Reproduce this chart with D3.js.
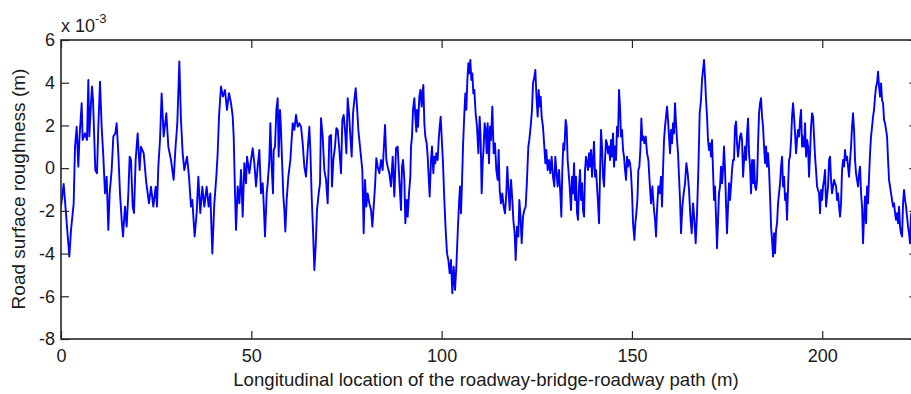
<!DOCTYPE html>
<html>
<head>
<meta charset="utf-8">
<script src="https://cdn.jsdelivr.net/npm/d3@7/dist/d3.min.js"></script>
<style>
html,body{margin:0;padding:0;background:#fff;}
svg{display:block;}
text{font-family:"Liberation Sans",Arial,sans-serif;fill:#1a1a1a;}
</style>
</head>
<body>
<svg id="chart" width="911" height="394"></svg>
<script>
// ---- data (distance in m, roughness in 1e-3 m) ----
const xTicks = [0, 50, 100, 150, 200];
const yTicks = [-8, -6, -4, -2, 0, 2, 4, 6];
const xDomain = [0, 225];
const yDomain = [-8, 6];
const xLabel = "Longitudinal location of the roadway-bridge-roadway path (m)";
const yLabel = "Road surface roughness (m)";
const profile = [
[0,-1.8],[0.70,-0.74],[2.19,-4.14],[2.63,-2.9],[3.33,-1.65],[3.68,1.0],[4.12,1.94],[4.55,0.07],[4.82,1.32],[5.43,3.04],[5.69,1.32],[6.30,1.63],[6.83,1.32],[7.18,4.13],[7.44,1.48],[7.88,3.04],[8.14,3.82],[8.41,3.2],[9.02,-0.1],[9.46,-0.24],[9.81,1.94],[10.25,4.05],[10.68,1.94],[11.12,0.54],[11.56,-1.18],[12.0,-0.4],[12.43,-2.89],[12.78,-1.18],[13.31,-0.09],[13.75,1.48],[14.27,1.63],[14.62,2.10],[15.06,0.70],[15.50,-1.18],[15.94,-2.42],[16.29,-3.2],[16.81,-1.8],[17.25,-2.73],[17.69,-1.18],[18.04,0.54],[18.39,0.38],[18.83,-1.8],[19.18,-2.1],[19.61,0.38],[20.14,1.63],[20.67,-0.09],[21.02,1.0],[21.72,0.7],[22.42,-0.71],[23.12,-1.65],[23.64,-0.87],[24.26,-1.80],[24.87,-0.87],[25.22,-1.80],[25.57,0.07],[26.01,1.32],[26.44,3.5],[26.97,1.48],[27.67,2.57],[28.20,1.0],[28.90,0.38],[29.60,-0.55],[30.04,0.85],[30.56,2.1],[31.09,4.99],[31.52,2.26],[31.96,0.70],[32.40,-0.09],[33.10,0.54],[33.63,-0.40],[34.15,-1.80],[34.50,-1.49],[35.11,-3.2],[35.64,-2.1],[36.08,-0.40],[36.60,-2.1],[37.13,-0.87],[37.65,-1.80],[38.27,-0.87],[38.79,-1.80],[39.23,-1.18],[39.75,-4.0],[40.28,-1.65],[40.81,-0.40],[41.16,0.70],[41.51,2.41],[42.03,3.82],[42.56,3.35],[43.08,3.66],[43.61,2.73],[44.13,3.51],
[44.67,3.04],[45.11,2.41],[45.37,1.48],[45.72,-1.18],[45.98,-2.89],[46.42,-0.86],[46.86,-1.65],[47.30,-0.09],[47.73,-2.27],[48.17,0.23],[48.61,-0.71],[48.87,0.54],[49.49,-0.24],[49.92,0.38],[50.36,0.93],[50.80,0.23],[51.24,-0.86],[51.67,0.07],[52.11,0.85],[52.55,-1.18],[52.99,-0.71],[53.25,-1.65],[53.60,-3.2],[54.04,-1.18],[54.30,-0.71],[54.74,0.38],[55.0,2.10],[55.35,0.07],[55.70,-1.18],[55.88,0.85],[56.23,1.01],[56.58,2.73],[56.93,3.27],[57.19,0.54],[57.54,2.73],[57.80,1.79],[58.07,0.38],[58.42,-1.33],[58.68,-1.96],[58.94,-2.97],[59.29,-1.49],[59.73,-0.40],[60.26,0.38],[60.87,2.10],[61.31,1.79],[61.75,2.49],[62.18,1.94],[62.62,2.10],[63.06,1.94],[63.50,1.16],[63.93,0.07],[64.37,-0.40],[64.81,0.85],[65.25,1.94],[65.51,0.85],[65.86,-1.33],[66.21,-2.89],[66.56,-4.77],[66.91,-3.67],[67.26,-1.96],[67.70,-1.18],[68.05,-0.71],[68.31,2.34],[68.75,1.48],[69.19,-0.09],[69.63,-0.55],[70.06,-1.65],[70.50,1.48],[70.94,1.55],[71.20,-0.86],[71.55,0.38],[71.99,1.01],[72.34,1.87],[72.69,1.79],[73.13,0.85],[73.57,-0.24],[73.92,2.26],[74.27,2.49],[74.62,1.79],[74.97,0.70],[75.32,3.27],[75.67,2.57],[76.02,1.48],[76.37,0.54],[76.72,2.57],[77.07,3.19],[77.42,3.74],[77.77,2.88],[78.12,1.79],[78.47,1.16],[78.82,0.54],[79.17,-0.09],[79.52,-3.05],[79.87,-0.55],[80.22,-1.80],[80.57,-1.18],[81.01,-1.65],[81.45,-1.96],[81.80,-2.74],[82.15,-1.80],[82.50,-0.86],[82.85,0.46],[83.20,0.07],[83.64,-0.24],[84.07,0.38],[84.51,-0.09],[84.95,1.40],[85.13,2.02],[85.48,0.38],[85.83,0.07],[86.26,-0.24],[86.70,-0.86],[87.14,0.54],[87.58,-1.33],[88.02,0.93],[88.45,1.01],[88.89,-0.55],
[89.33,-1.96],[89.59,0.07],[89.86,0.38],[90.21,-0.55],[90.47,-2.58],[90.82,-1.49],[91.08,-2.27],[91.43,-1.18],[91.78,-0.40],[91.96,1.01],[92.22,1.48],[92.48,2.73],[92.83,3.27],[93.10,2.41],[93.36,1.71],[93.53,2.73],[93.80,1.94],[94.15,3.35],[94.41,3.66],[94.76,2.88],[94.93,3.50],[95.20,3.89],[95.46,2.10],[95.72,1.48],[96.07,1.16],[96.34,0.54],[96.60,-0.40],[96.86,-1.33],[97.21,0.38],[97.47,1.01],[97.82,-0.24],[98.09,0.54],[98.35,0.23],[98.61,0.70],[98.96,0.38],[99.23,1.32],[99.49,1.94],[99.75,2.41],[100.01,1.48],[100.36,0.23],[100.71,-1.49],[101.06,-2.89],[101.41,-3.98],[101.76,-4.30],[102.11,-4.92],[102.46,-4.30],[102.81,-5.86],[103.17,-4.61],[103.52,-5.70],[103.87,-4.61],[104.22,-3.05],[104.57,-1.65],[104.83,-0.86],[105.09,-2.11],[105.35,-0.71],[105.62,1.01],[105.97,2.57],[106.23,3.50],[106.49,2.73],[106.76,4.13],[107.02,4.91],[107.28,4.44],[107.54,5.07],[107.81,4.13],[108.07,4.44],[108.33,3.50],[108.59,3.66],[108.94,2.57],[109.30,1.94],[109.65,0.70],[110.0,2.41],[110.26,1.32],[110.52,-1.18],[110.79,0.23],[111.05,1.01],[111.31,2.10],[111.57,1.79],[111.84,0.70],[112.10,2.10],[112.45,0.23],[112.71,1.94],[112.97,1.32],[113.32,2.88],[113.67,0.70],[114.02,1.16],[114.37,-0.09],[114.72,-0.55],[114.99,0.85],[115.25,-1.02],[115.60,-1.65],[115.95,-1.18],[116.30,-1.80],[116.65,-2.11],[117.0,-1.18],[117.26,0.07],[117.53,-0.86],[117.88,-1.96],[118.23,-0.55],[118.58,-1.49],[118.84,-2.42],[119.19,-3.05],[119.45,-4.30],[119.80,-2.74],[120.15,-3.20],[120.42,-1.49],[120.68,-2.11],[121.03,-3.52],[121.38,-2.27],[121.73,-1.96],[122.08,-1.80],[122.43,-0.55],[122.78,1.01],[123.04,1.32],[123.39,1.94],[123.74,2.73],[124.01,3.97],[124.36,4.28],[124.62,4.60],[124.88,3.50],[125.23,2.41],[125.50,3.66],[125.76,2.88],[126.02,3.35],[126.28,2.41],[126.63,1.94],[126.98,1.01],[127.25,0.23],[127.51,0.85],[127.86,-0.09],[128.21,0.38],[128.56,-0.24],[128.91,0.54],[129.26,-0.40],[129.61,-0.86],[129.87,0.54],[130.14,-0.09],[130.49,-0.86],[130.84,-0.09],[131.19,-1.18],[131.45,-2.27],[131.71,-0.09],[131.98,1.16],[132.24,0.85],[132.59,2.26],[132.85,1.94],[133.11,0.38],[133.38,-0.24],[133.64,-0.86],
[134.00,-1.96],[134.26,-0.40],[134.53,-1.18],[134.79,0.23],[135.05,-1.49],[135.31,-0.40],[135.58,-2.11],[135.84,-2.42],[136.10,-0.86],[136.36,-0.09],[136.63,-1.49],[136.89,-0.71],[137.15,-1.96],[137.42,-2.27],[137.68,-0.09],[137.94,0.54],[138.20,0.23],[138.47,-0.09],[138.73,0.70],[138.99,0.07],[139.25,0.85],[139.52,-0.40],[139.78,0.38],[140.04,1.24],[140.31,-0.40],[140.57,-0.09],[140.83,-0.86],[141.09,-1.65],[141.36,-2.58],[141.62,-0.24],[141.88,1.79],[142.14,1.01],[142.41,-0.40],[142.67,-0.86],[142.93,0.38],[143.19,1.32],[143.46,1.16],[143.72,0.70],[143.98,1.01],[144.25,0.38],[144.51,1.32],[144.77,0.54],[145.03,1.63],[145.30,0.07],[145.56,1.01],[145.82,0.38],[146.08,1.94],[146.35,1.48],[146.61,3.66],[146.87,2.88],[147.14,1.48],[147.40,1.79],[147.66,0.85],[147.92,0.54],[148.19,-0.09],[148.45,-0.55],[148.71,0.54],[148.97,0.07],[149.24,0.38],[149.50,0.23],[149.76,-0.24],[150.03,-1.18],[150.29,-2.58],[150.64,-3.36],[150.90,-2.58],[151.16,-2.11],[151.43,-1.49],[151.69,-0.09],[151.95,0.07],[152.21,0.85],[152.48,2.33],[152.74,1.32],[153.00,1.48],[153.27,1.16],[153.62,1.48],[153.97,0.70],[154.32,0.38],[154.67,-0.71],[155.02,-1.65],[155.37,-0.86],[155.72,-1.80],[156.07,-2.42],[156.33,-3.20],[156.59,-1.96],[156.94,-0.86],[157.29,-1.18],[157.64,-0.40],[157.91,-1.80],[158.17,-0.09],[158.43,1.32],[158.69,1.94],[158.96,2.41],[159.22,2.88],[159.48,2.26],[159.75,1.48],[160.01,0.70],[160.27,1.79],[160.53,1.16],[160.80,2.10],[161.06,1.63],[161.32,3.04],[161.58,2.10],[161.85,1.32],[162.11,0.70],[162.37,-0.40],[162.64,-1.49],[162.90,-3.05],[163.25,-1.80],[163.60,-1.18],[163.95,-0.71],[164.30,0.23],[164.65,-0.24],[165.00,-1.02],[165.35,-2.27],[165.70,-3.05],[166.05,-1.65],[166.40,-2.42],[166.75,-3.52],[167.10,-2.11],[167.45,-0.09],[167.80,2.57],[168.15,3.19],[168.41,4.13],[168.68,4.60],[168.94,5.07],[169.20,4.28],[169.47,3.19],[169.73,2.41],[169.99,1.32],[170.25,0.85],[170.52,1.16],[170.78,0.54],[171.04,1.32],[171.30,-0.09],[171.57,-1.49],[171.83,-0.86],[172.09,-2.27],[172.36,-3.75],[172.62,-2.42],[172.88,-1.18],[173.14,-0.86],[173.41,0.07],[173.67,-0.71],[173.93,-0.09],[174.19,1.01],[174.46,-0.09],[174.72,-1.65],[174.98,-3.05],[175.25,-1.80],[175.51,-0.71],[175.77,-1.49],[176.03,-0.86],[176.30,-0.09],[176.56,0.38],[176.82,0.38],[177.08,1.94],[177.35,2.18],[177.61,1.16],[177.87,0.54],[178.14,1.01],[178.40,1.48],
[178.67,1.63],[178.93,1.32],[179.20,-0.40],[179.46,0.38],[179.72,1.01],[179.98,0.38],[180.25,1.63],[180.51,2.33],[180.77,0.70],[181.03,0.07],[181.30,-1.18],[181.56,0.38],[181.82,-0.71],[182.09,0.38],[182.35,-0.86],[182.61,-1.02],[182.87,-0.55],[183.14,1.16],[183.40,2.57],[183.66,3.04],[183.92,3.27],[184.19,2.41],[184.45,1.94],[184.71,1.01],[184.98,0.23],[185.24,1.01],[185.50,0.07],[185.76,0.70],[186.03,-0.09],[186.29,-1.33],[186.55,-2.74],[186.81,-3.36],[187.08,-4.14],[187.34,-3.05],[187.60,-3.98],[187.87,-2.89],[188.13,-2.58],[188.39,-1.65],[188.65,-1.18],[188.92,-0.71],[189.18,0.07],[189.44,0.54],[189.70,-0.86],[189.97,-0.40],[190.23,-1.49],[190.49,-1.18],[190.75,-2.42],[191.02,-0.86],[191.28,0.38],[191.54,0.54],[191.81,1.32],[192.07,2.41],[192.33,3.04],[192.59,2.41],[192.86,1.63],[193.12,0.70],[193.38,1.32],[193.64,1.79],[193.91,1.48],[194.17,2.26],[194.43,2.73],[194.70,1.01],[194.96,1.48],[195.22,1.01],[195.48,2.10],[195.75,0.54],[196.01,1.32],[196.27,1.01],[196.53,-0.40],[196.80,0.70],[197.06,1.94],[197.32,2.57],[197.59,2.41],[197.85,1.48],[198.11,0.54],[198.37,-0.09],[198.64,-0.86],[198.90,-1.02],[199.16,-1.18],[199.42,-2.11],[199.69,-1.02],[199.95,-1.49],[200.21,-0.86],[200.48,-0.55],[200.74,-0.09],[201.00,-1.80],[201.26,-1.33],[201.53,-0.86],[201.79,0.38],[202.05,0.54],[202.31,-0.55],[202.58,-1.18],[202.84,-0.86],[203.10,-0.55],[203.37,-0.71],[203.63,-0.86],[203.89,-1.49],[204.15,-1.18],[204.42,-1.80],[204.68,-2.27],[204.94,-1.65],[205.20,-0.09],[205.47,0.38],[205.73,0.07],[205.99,0.85],[206.26,0.38],[206.52,0.54],[206.78,0.07],[207.04,-0.40],[207.31,0.38],[207.57,1.01],[207.83,1.94],[208.09,2.57],[208.36,1.79],[208.62,0.38],[208.88,-0.24],[209.14,-0.55],[209.41,-0.86],[209.67,-0.24],[209.93,0.07],[210.20,-1.18],[210.46,-1.80],[210.72,-3.52],[210.98,-2.27],[211.25,-1.33],[211.51,-2.58],[211.77,-0.86],[212.03,-1.65],[212.30,-0.40],[212.56,0.70],[212.82,1.48],[213.09,1.94],[213.35,2.41],[213.61,2.73],[213.87,3.35],[214.14,3.82],[214.40,3.97],[214.66,4.52],[214.92,3.82],[215.19,3.35],[215.45,3.97],[215.71,3.19],[215.98,3.04],[216.24,2.26],[216.50,2.10],[216.76,1.79],[217.03,1.48],[217.29,0.38],[217.55,-0.55],[217.81,-0.86],[218.08,-1.18],[218.34,-1.49],[218.60,-1.80],[218.87,-1.65],[219.13,-2.11],[219.39,-2.42],[219.65,-2.11],[219.92,-2.58],[220.18,-1.80],[220.44,-2.74],[220.70,-3.05],[220.97,-3.20],[221.23,-1.65],[221.49,-1.02],[221.76,-1.49],[222.02,-1.80],[222.28,-2.27],[222.54,-2.74],[222.81,-3.05],[223.07,-3.52],[223.33,-2.11]
];
const distance = profile.map(p => p[0]);
const roughness = profile.map(p => p[1]);

// ---- layout ----
const svg = d3.select("#chart");
const L = 61, T = 40, R = 917.4, B = 339;
const x = d3.scaleLinear().domain(xDomain).range([L, R]);
const y = d3.scaleLinear().domain(yDomain).range([B, T]);
const tickLen = 8;
const axisColor = "#262626";

svg.append("rect").attr("x",0).attr("y",0).attr("width",911).attr("height",394).attr("fill","#fff");

svg.append("defs").append("clipPath").attr("id","clip")
  .append("rect").attr("x",L).attr("y",T).attr("width",R-L).attr("height",B-T);

// line
const line = d3.line().x((d,i)=>x(distance[i])).y((d,i)=>y(roughness[i]));
svg.append("path")
  .datum(roughness)
  .attr("clip-path","url(#clip)")
  .attr("fill","none")
  .attr("stroke","#0000ff")
  .attr("stroke-width",1.9)
  .attr("stroke-linejoin","round")
  .attr("d", line);

// axes
function styleAxis(g){
  g.select(".domain").remove();
  g.selectAll(".tick line").attr("stroke",axisColor).attr("stroke-width",1.2);
  g.selectAll(".tick text").attr("fill","#1a1a1a").style("font-size","18px").style("font-family",'"Liberation Sans",Arial,sans-serif');
}
const xAxisB = d3.axisBottom(x).tickValues(xTicks).tickSizeInner(-tickLen).tickSizeOuter(0).tickPadding(10).tickFormat(d3.format("d"));
svg.append("g").attr("transform",`translate(0,${B})`).call(xAxisB).call(styleAxis);
const xAxisT = d3.axisTop(x).tickValues(xTicks).tickSizeInner(-tickLen).tickSizeOuter(0).tickFormat("");
svg.append("g").attr("transform",`translate(0,${T})`).call(xAxisT).call(styleAxis);
const yAxisL = d3.axisLeft(y).tickValues(yTicks).tickSizeInner(-tickLen).tickSizeOuter(0).tickPadding(6).tickFormat(d3.format("d"));
const gyl = svg.append("g").attr("transform",`translate(${L},0)`).call(yAxisL).call(styleAxis);
gyl.selectAll(".tick text").text(d => d < 0 ? "-" + Math.abs(d) : d);
const yAxisR = d3.axisRight(y).tickValues(yTicks).tickSizeInner(-tickLen).tickSizeOuter(0).tickFormat("");
svg.append("g").attr("transform",`translate(${R},0)`).call(yAxisR).call(styleAxis);

// frame
svg.append("rect").attr("x",L).attr("y",T).attr("width",R-L).attr("height",B-T)
  .attr("fill","none").attr("stroke",axisColor).attr("stroke-width",1.6);

// exponent label
const ex = svg.append("text").attr("x",L).attr("y",32).style("font-size","18px");
ex.append("tspan").text("x 10");
ex.append("tspan").attr("dy",-9).style("font-size","13px").text("-3");

// axis labels
svg.append("text").attr("x",486).attr("y",386).attr("text-anchor","middle")
  .style("font-size","18.6px").text(xLabel);
svg.append("text").attr("transform",`translate(25,189) rotate(-90)`).attr("text-anchor","middle")
  .style("font-size","19px").text(yLabel);
</script>
</body>
</html>
